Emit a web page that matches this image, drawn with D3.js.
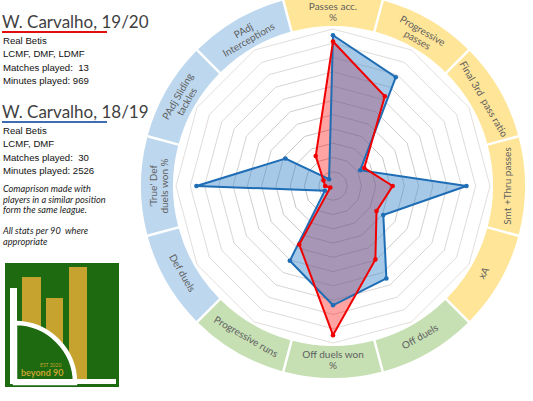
<!DOCTYPE html>
<html>
<head>
<meta charset="utf-8">
<script src="https://cdn.jsdelivr.net/npm/d3@7"></script>
<style>
body { margin: 0; background: #fff; }
svg { display: block; }
text { white-space: pre; }
</style>
</head>
<body>
<svg id="radarChart" width="533" height="401"></svg>
<script>
// axes, clockwise from the top
const categories = [
    "Passes acc.|%", "Progressive|passes", "Final 3rd  pass ratio", "Smt +Thru passes",
    "xA", "Off duels", "Off duels won|%", "Progressive runs",
    "Def duels", "'True' Def|duels won %", "PAdj Sliding|tackles", "PAdj|Interceptions"
];
const groups = ["pass", "pass", "pass", "pass", "pass", "att", "att", "att", "def", "def", "def", "def"];

// percentile ranks
const season1920 = [92, 66, 23, 38, 32, 54, 95, 43, 2, 5, 7, 22];
const season1819 = [96, 80, 20, 85, 37, 68, 76, 55, 6, 87, 35, 5];

const player1920 = ["Real Betis", "LCMF, DMF, LDMF", "Matches played:  13", "Minutes played: 969"];
const player1819 = ["Real Betis", "LCMF, DMF", "Matches played:  30", "Minutes played: 2526"];
const notes = ["Comaprison made with", "players in a similar position", "form the same league.", "", "All stats per 90  where", "appropriate"];

const groupColor = { pass: "#FFE597", att: "#C6E0B4", def: "#BDD7EE" };

const svg = d3.select("#radarChart");
const cx = 333, cy = 186;
const R = 157;
const ringCount = 11;

const rScale = d3.scaleLinear().domain([0, 100]).range([0, R]);
const angle = d3.scaleLinear().domain([0, categories.length]).range([0, 2 * Math.PI]);

const chart = svg.append("g").attr("transform", `translate(${cx}, ${cy})`);

// coloured outer band
const band = d3.arc()
    .innerRadius(160)
    .outerRadius(192)
    .startAngle((d, i) => angle(i - 0.5))
    .endAngle((d, i) => angle(i + 0.5))
    .padAngle(0.01);

chart.append("g")
    .selectAll("path")
    .data(categories)
    .enter()
    .append("path")
    .attr("d", band)
    .attr("fill", (d, i) => groupColor[groups[i]]);

// polygon grid
const ringLine = d3.lineRadial()
    .angle((d, i) => angle(i))
    .radius((d) => d)
    .curve(d3.curveLinearClosed);

const ringColor = d3.scaleLinear().domain([1, ringCount]).range(["#b0adad", "#dcd6d2"]);

chart.append("g")
    .selectAll("path")
    .data(d3.range(1, ringCount + 1))
    .enter()
    .append("path")
    .attr("d", (k) => ringLine(categories.map(() => (k * R) / ringCount)))
    .attr("fill", "none")
    .attr("stroke", (k) => ringColor(k))
    .attr("stroke-width", 0.8);

// series
const radarLine = d3.lineRadial()
    .angle((d, i) => angle(i))
    .radius((d) => rScale(d))
    .curve(d3.curveLinearClosed);

const series = [
    { values: season1920, stroke: "#F00000", fill: "rgba(255, 0, 0, 0.36)" },
    { values: season1819, stroke: "#1E6DB5", fill: "rgba(60, 135, 205, 0.45)" }
];

series.forEach((s) => {
    chart.append("path")
        .datum(s.values)
        .attr("d", radarLine)
        .attr("fill", s.fill)
        .attr("stroke", "none");
});

[series[1], series[0]].forEach((s) => {
    chart.append("path")
        .datum(s.values)
        .attr("d", radarLine)
        .attr("fill", "none")
        .attr("stroke", s.stroke)
        .attr("stroke-width", 2)
        .attr("stroke-linejoin", "miter");

    chart.append("g")
        .selectAll("circle")
        .data(s.values)
        .enter()
        .append("circle")
        .attr("cx", (d, i) => rScale(d) * Math.sin(angle(i)))
        .attr("cy", (d, i) => -rScale(d) * Math.cos(angle(i)))
        .attr("r", 2.3)
        .attr("fill", s.stroke);
});

// band labels
const labelR = 174;
const labels = chart.append("g")
    .selectAll("text")
    .data(categories)
    .enter()
    .append("text")
    .attr("transform", (d, i) => {
        const a = angle(i);
        const deg = (a * 180) / Math.PI;
        const rot = deg >= 90 && deg < 270 ? deg - 180 : deg;
        return `translate(${labelR * Math.sin(a)}, ${-labelR * Math.cos(a)}) rotate(${rot})`;
    })
    .attr("text-anchor", "middle")
    .style("font-family", "Lato, 'Open Sans', sans-serif")
    .style("font-size", "10px")
    .attr("fill", "#5f5f5f");

labels.each(function (d) {
    const lines = d.split("|");
    const t = d3.select(this);
    lines.forEach((line, j) => {
        t.append("tspan")
            .attr("x", 0)
            .attr("y", (j - (lines.length - 1) / 2) * 10.5)
            .attr("dy", "0.35em")
            .text(line);
    });
});

// left panel
function playerBlock(y0, title, lines, lineColor) {
    svg.append("text")
        .attr("x", 2)
        .attr("y", y0)
        .style("font-family", "Lato, sans-serif")
        .style("font-size", "17px")
        .attr("fill", "#3f3f3f")
        .text(title);
    svg.append("line")
        .attr("x1", 2)
        .attr("x2", 107)
        .attr("y1", y0 + 4)
        .attr("y2", y0 + 4)
        .attr("stroke", lineColor)
        .attr("stroke-width", 2);
    svg.append("g")
        .selectAll("text")
        .data(lines)
        .enter()
        .append("text")
        .attr("x", 3)
        .attr("y", (d, i) => y0 + 16 + i * 13.3)
        .style("font-family", "'Liberation Sans', sans-serif")
        .style("font-size", "9.6px")
        .attr("fill", "#111")
        .text((d) => d);
}

playerBlock(28, "W. Carvalho, 19/20", player1920, "#E01010");
playerBlock(118, "W. Carvalho, 18/19", player1819, "#3F6DB3");

svg.append("g")
    .selectAll("text")
    .data(notes)
    .enter()
    .append("text")
    .attr("x", 3)
    .attr("y", (d, i) => 192 + i * 10.6)
    .style("font-family", "Lato, sans-serif")
    .style("font-size", "9.2px")
    .style("font-style", "italic")
    .attr("fill", "#222")
    .text((d) => d);

// beyond 90 logo
const logo = svg.append("g");
logo.append("rect").attr("x", 5).attr("y", 263).attr("width", 114).attr("height", 124).attr("fill", "#1D6A10");
const bars = [[22, 277, 19], [46, 298, 17], [69, 267, 18]];
logo.selectAll(".bar")
    .data(bars)
    .enter()
    .append("rect")
    .attr("x", (d) => d[0])
    .attr("y", (d) => d[1])
    .attr("width", (d) => d[2])
    .attr("height", (d) => 382 - d[1])
    .attr("fill", "#C6A22F");
logo.append("path")
    .attr("d", d3.arc()({ innerRadius: 0, outerRadius: 60, startAngle: 0, endAngle: Math.PI / 2 }))
    .attr("transform", "translate(15, 383)")
    .attr("fill", "#1D6A10")
    .attr("stroke", "#fff")
    .attr("stroke-width", 4.5);
logo.append("rect").attr("x", 10).attr("y", 288).attr("width", 7).attr("height", 96).attr("fill", "#fff");
logo.append("rect").attr("x", 10).attr("y", 379).attr("width", 106).attr("height", 5).attr("fill", "#fff");
logo.append("text").attr("x", 40).attr("y", 367)
    .style("font-family", "Lato, sans-serif").style("font-size", "5px")
    .attr("fill", "#C6A22F").text("EST 2020");
logo.append("text").attr("x", 21).attr("y", 376)
    .style("font-family", "Lato, sans-serif").style("font-size", "9px").style("font-weight", "bold")
    .attr("fill", "#C6A22F").text("beyond 90");
</script>
</body>
</html>
